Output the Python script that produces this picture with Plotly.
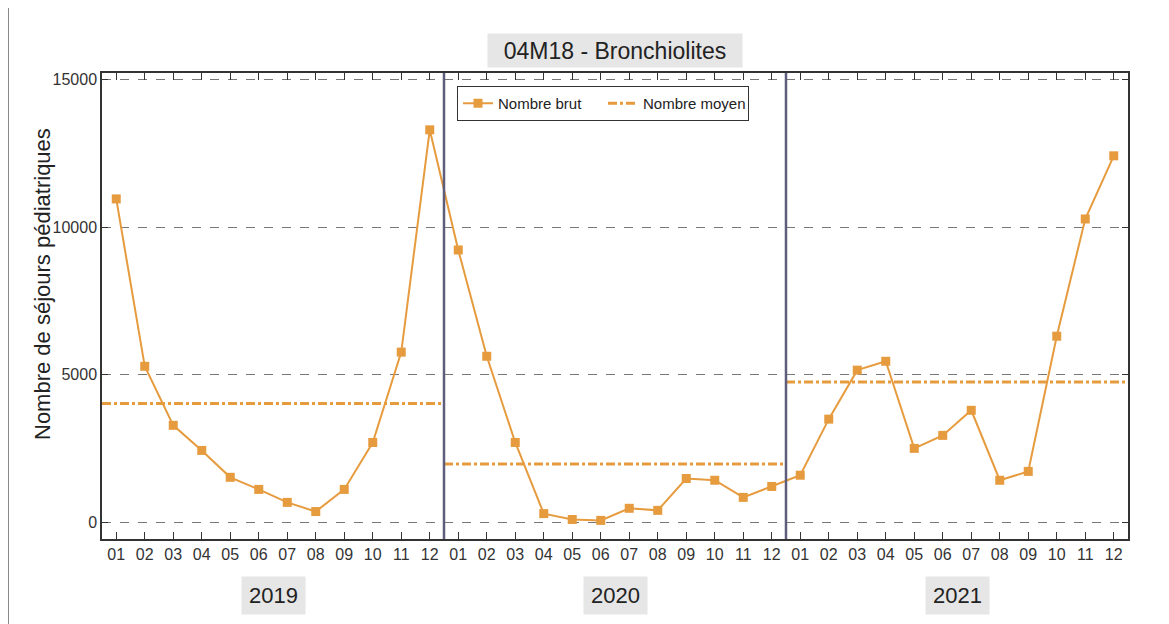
import plotly.graph_objects as go

years = ["2019", "2020", "2021"]
months = ["01", "02", "03", "04", "05", "06", "07", "08", "09", "10", "11", "12"]
brut_2019 = [10960, 5290, 3290, 2440, 1530, 1120, 680, 370, 1120, 2710, 5770, 13300]
brut_2020 = [9230, 5630, 2710, 300, 100, 70, 480, 410, 1490, 1430, 850, 1220]
brut_2021 = [1600, 3500, 5160, 5460, 2510, 2950, 3800, 1430, 1730, 6310, 10280, 12420]
moyen = [4030, 1980, 4760]
y_ticks = [0, 5000, 10000, 15000]

ORANGE = "#E69B3E"
FONT = "Liberation Sans, Arial, sans-serif"

W, H = 1161, 616
L, R, T, B = 94, 41, 65, 85
PW = W - L - R
PH = H - T - B

brut = brut_2019 + brut_2020 + brut_2021
n = len(months)
xs = list(range(len(brut)))
ticktext = months * len(years)

fig = go.Figure()
fig.add_trace(go.Scatter(
    x=xs, y=brut, mode="lines+markers", name="Nombre brut",
    line=dict(color=ORANGE, width=2),
    marker=dict(symbol="square", size=9, color=ORANGE),
))

mx, my = [], []
for i, m in enumerate(moyen):
    mx += [i * n - 0.5, (i + 1) * n - 0.5, None]
    my += [m, m, None]
fig.add_trace(go.Scatter(
    x=mx, y=my, mode="lines", name="Nombre moyen",
    line=dict(color=ORANGE, width=3, dash="dashdot"),
))

shapes = []
for i in range(1, len(years)):
    shapes.append(dict(type="line", xref="x", yref="paper", x0=i * n - 0.5, x1=i * n - 0.5,
                       y0=0, y1=1, line=dict(color="#5E5E7C", width=2.5), layer="above"))
shapes.append(dict(type="line", xref="paper", yref="paper", x0=-L / PW, x1=-L / PW,
                   y0=(H - B) / PH, y1=-B / PH - 0.05, line=dict(color="#8A8A8A", width=2)))

annotations = [dict(
    text="04M18 - Bronchiolites", xref="x", yref="paper", x=(len(brut) - 1) / 2,
    y=(H - B - 43) / PH,
    showarrow=False, font=dict(size=23, color="#222", family=FONT), bgcolor="#E6E6E6",
    borderpad=0, width=254, height=33, xanchor="center", yanchor="middle",
)]
for i, yr in enumerate(years):
    annotations.append(dict(
        text=yr, xref="x", yref="paper", x=i * n + (n - 1) / 2, y=-(587 - (H - B)) / PH,
        showarrow=False, font=dict(size=22, color="#222", family=FONT), bgcolor="#E6E6E6",
        borderpad=0, width=63, height=37, xanchor="center", yanchor="middle",
    ))
annotations.append(dict(
    text="Nombre de séjours pédiatriques", xref="paper", yref="paper",
    x=(34 - L) / PW, y=(H - B - 276) / PH, textangle=-90,
    showarrow=False, font=dict(size=22, color="#222", family=FONT),
    xanchor="center", yanchor="middle",
))

fig.update_layout(
    width=W, height=H,
    margin=dict(l=L, r=R, t=T, b=B),
    paper_bgcolor="white", plot_bgcolor="white",
    font=dict(family=FONT, color="#333"),
    showlegend=True,
    legend=dict(orientation="h", x=(449 - L) / PW, y=(H - B - 78) / PH,
                xanchor="left", yanchor="top",
                bordercolor="#333", borderwidth=1, bgcolor="white",
                font=dict(size=15, color="#222", family=FONT),
                entrywidth=100, tracegroupgap=0),
    shapes=shapes, annotations=annotations,
)
fig.update_xaxes(
    range=[-0.5, len(brut) - 0.5], tickvals=xs, ticktext=ticktext,
    ticks="inside", ticklen=7, tickcolor="#333", showgrid=False, zeroline=False,
    showline=True, linecolor="#333", linewidth=1.5, mirror="ticks",
    tickfont=dict(size=16, color="#333"),
)
fig.update_yaxes(
    range=[-560, 15225], tickvals=y_ticks, ticktext=[str(v) for v in y_ticks],
    ticks="inside", ticklen=6, tickcolor="#333", showgrid=True, gridcolor="#777",
    griddash="dash", gridwidth=1, zeroline=False,
    showline=True, linecolor="#333", linewidth=1.5, mirror="ticks",
    tickfont=dict(size=16, color="#333"),
)

fig.write_html("out.html")
